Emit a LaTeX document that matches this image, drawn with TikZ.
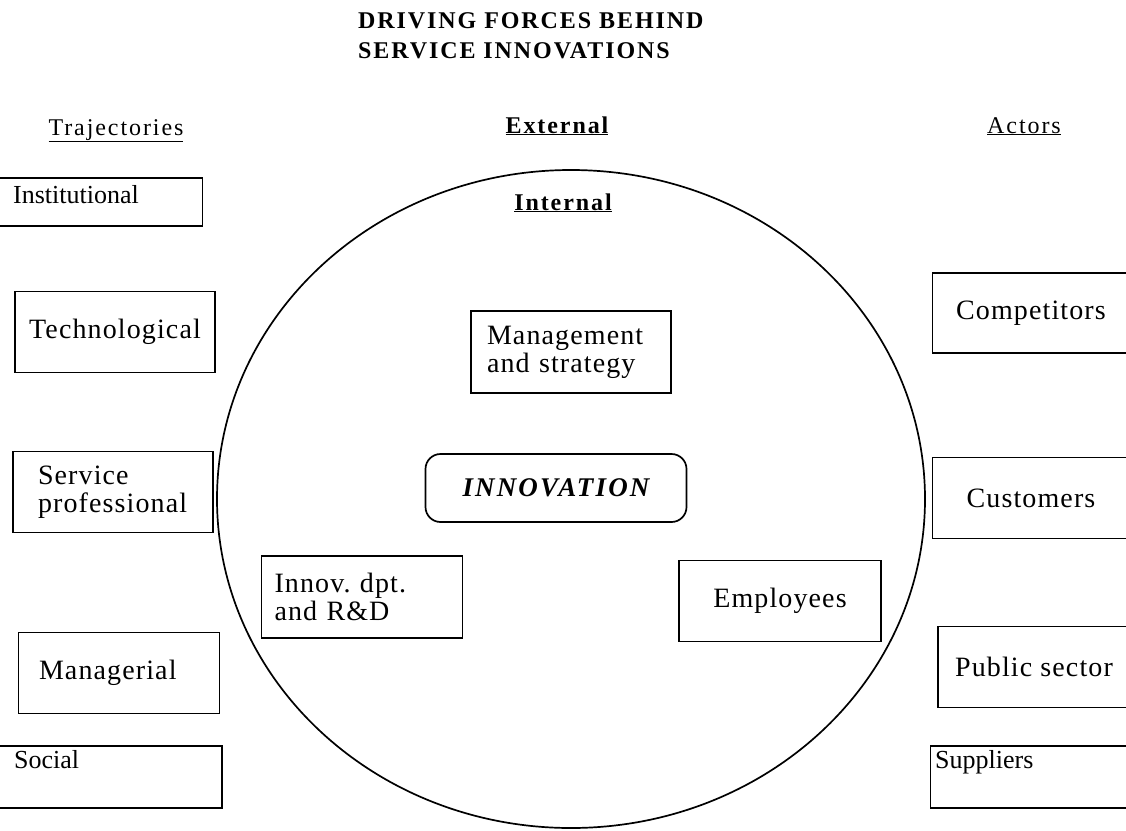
\documentclass[tikz,border=0pt]{standalone}
\usepackage{fontspec}
\setmainfont{Liberation Serif}
\newfontfamily\wideserif[LetterSpace=4]{Liberation Serif}
\newfontfamily\headserif[LetterSpace=8]{Liberation Serif}
\newfontfamily\titleserif[LetterSpace=8]{Liberation Serif}
\usetikzlibrary{positioning}

\tikzset{
  frame/.style={draw, shape=rectangle, line width=1.7pt, inner sep=0pt},
  wide/.style={font=\wideserif\fontsize{28}{28}\selectfont},
  plain/.style={font=\fontsize{26}{28}\selectfont, inner sep=0pt},
  head/.style={font=\headserif\fontsize{24}{26}\selectfont, inner sep=0pt, anchor=base},
}

\begin{document}
\begin{tikzpicture}[x=1pt, y=-1pt]
\useasboundingbox (0,0) rectangle (1126,830);
\clip (0,0) rectangle (1126,830);

% title and column heads
\node (title) [anchor=north west, inner sep=0pt, align=left,
  font=\titleserif\bfseries\fontsize{24}{30}\selectfont] at (358,12)
  {DRIVING FORCES BEHIND\\SERVICE INNOVATIONS};
\node (traj) [head] at (116,135) {\underline{Trajectories}};
\node (ext) [head, font=\headserif\bfseries\fontsize{24}{26}\selectfont] at (557,133) {\underline{External}};
\node (act) [head] at (1024,133) {\underline{Actors}};

% the firm
\coordinate (hub) at (571,499);
\draw[line width=1.7pt] (hub) ellipse [x radius=354, y radius=329];
\node (int) [head, font=\headserif\bfseries\fontsize{24}{26}\selectfont] at (563,210) {\underline{Internal}};

\node (mgmt) [frame, wide, minimum width=200, minimum height=82, text width=168, align=left] at (571,352) {Management\\and strategy};
\node (inn) [frame, rounded corners=15pt, minimum width=261, minimum height=68,
  font=\headserif\bfseries\itshape\fontsize{27}{28}\selectfont] at (556,488) {INNOVATION};
\node (rnd) [frame, wide, minimum width=201, minimum height=82, text width=175, align=left] at (362,597) {Innov.\ dpt.\\and R\&D};
\node (emp) [frame, wide, minimum width=202, minimum height=81] at (780,601) {Employees};

% trajectories
\node (inst) [frame, minimum width=213, minimum height=48] at (96,202) {};
\node (instlbl) [plain, anchor=north west] at (13,185) {Institutional};
\node (tech) [frame, wide, minimum width=200, minimum height=81] at (115,332) {Technological};
\node (serv) [frame, wide, minimum width=200, minimum height=81, text width=150, align=left] at (113,492) {Service\\professional};
\node (mgr) [frame, wide, minimum width=201, minimum height=81, text width=160, align=left] at (119,673) {Managerial};
\node (soc) [frame, minimum width=232, minimum height=62] at (106,777) {};
\node (soclbl) [plain, anchor=north west] at (14,750) {Social};

% actors
\node (comp) [frame, wide, minimum width=197, minimum height=80] at (1031,313) {Competitors};
\node (cust) [frame, wide, minimum width=197, minimum height=81] at (1031,498) {Customers};
\node (pub) [frame, wide, minimum width=192, minimum height=81] at (1034,667) {Public sector};
\node (supp) [frame, minimum width=199, minimum height=62] at (1030,777) {};
\node (supplbl) [plain, anchor=north west] at (935,750) {Suppliers};
\end{tikzpicture}
\end{document}
